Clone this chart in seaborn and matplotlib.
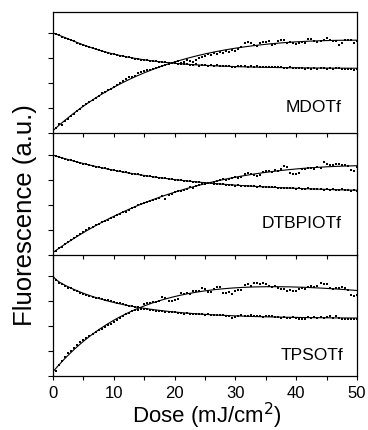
import numpy as np
import pandas as pd
import matplotlib
matplotlib.use("Agg")
import matplotlib.pyplot as plt
import seaborn as sns

# ---------------- data ----------------
dose = np.round(np.arange(0, 50.001, 0.5), 1)   # mJ/cm^2, sampling grid

panel_names = ["MDOTf", "DTBPIOTf", "TPSOTf"]

mdotf_down = [1.00,0.99,0.978,0.963,0.952,0.94,0.928,0.917,0.905,0.893,
              0.882,0.871,0.861,0.85,0.842,0.83,0.822,0.812,0.803,0.795,
              0.786,0.778,0.771,0.766,0.759,0.757,0.75,0.744,0.741,0.735,
              0.732,0.728,0.725,0.721,0.716,0.714,0.71,0.707,0.703,0.702,
              0.699,0.694,0.692,0.689,0.687,0.683,0.676,0.688,0.672,0.68,
              0.679,
              0.675,0.681,0.673,0.676,0.670,0.674,0.668,0.672,0.656,0.660,
              0.669,0.666,0.671,0.664,0.667,0.662,0.668,0.661,0.665,0.659,
              0.663,0.660,0.664,0.657,0.661,0.655,0.652,0.658,0.650,0.654,
              0.647,0.651,0.645,0.648,0.643,0.650,0.641,0.646,0.652,0.644,
              0.649,0.640,0.647,0.653,0.645,0.641,0.636,0.640,0.632,0.637]
mdotf_up = [0.03,0.05,0.09,0.08,0.12,0.14,0.17,0.19,0.22,0.24,
            0.27,0.29,0.31,0.33,0.35,0.37,0.40,0.41,0.43,0.44,
            0.46,0.48,0.50,0.52,0.54,0.56,0.565,0.57,0.60,0.61,
            0.62,0.63,0.635,0.64,0.655,0.66,0.675,0.68,0.695,0.70,
            0.715,0.72,0.70,0.715,0.73,0.725,0.71,0.73,0.75,0.76,
            0.775,
            0.79,0.785,0.80,0.795,0.81,0.80,0.825,0.815,0.83,0.825,
            0.845,0.865,0.905,0.91,0.905,0.88,0.87,0.905,0.915,0.915,
            0.92,0.885,0.89,0.92,0.935,0.93,0.905,0.91,0.905,0.895,
            0.90,0.91,0.905,0.94,0.945,0.92,0.91,0.92,0.935,0.955,
            0.93,0.925,0.92,0.885,0.90,0.93,0.935,0.935,0.905,0.92]

dtbpiotf_down = [1.00,0.99,0.982,0.97,0.961,0.952,0.946,0.937,0.93,0.922,
                 0.915,0.906,0.90,0.892,0.884,0.879,0.87,0.866,0.86,0.854,
                 0.85,0.842,0.836,0.83,0.826,0.82,0.815,0.81,0.806,0.80,
                 0.795,0.79,0.786,0.78,0.776,0.773,0.77,0.766,0.762,0.758,
                 0.755,0.753,0.75,0.744,0.741,0.738,0.735,0.727,0.73,0.724,
                 0.72,0.716,0.722,0.712,0.71,0.707,0.711,0.703,0.70,0.704,
                 0.695,0.699,0.692,0.69,0.694,0.686,0.688,0.684,0.687,0.681,
                 0.683,0.678,0.676,0.68,0.672,0.675,0.671,0.668,0.673,0.666,
                 0.665,0.669,0.662,0.66,0.666,0.658,0.661,0.657,0.663,0.655,
                 0.657,0.652,0.659,0.65,0.654,0.656,0.648,0.653,0.642,0.649,
                 0.645]
dtbpiotf_up = [0.01,0.04,0.07,0.08,0.11,0.13,0.15,0.17,0.19,0.21,
               0.235,0.25,0.27,0.285,0.30,0.315,0.33,0.345,0.355,0.375,
               0.385,0.40,0.415,0.43,0.435,0.455,0.47,0.48,0.50,0.51,
               0.52,0.53,0.545,0.555,0.565,0.575,0.59,0.56,0.605,0.61,
               0.63,0.64,0.645,0.65,0.665,0.68,0.675,0.69,0.70,0.71,
               0.715,0.725,0.72,0.735,0.745,0.75,0.76,0.755,0.765,0.77,
               0.78,0.77,0.785,0.815,0.82,0.81,0.80,0.79,0.805,0.835,
               0.845,0.84,0.83,0.85,0.845,0.86,0.89,0.885,0.82,0.815,
               0.81,0.82,0.86,0.865,0.87,0.875,0.86,0.88,0.87,0.93,
               0.91,0.905,0.90,0.915,0.91,0.905,0.90,0.895,0.85,0.84,
               0.88]

tpsotf_down = [1.00,0.965,0.935,0.925,0.90,0.885,0.88,0.865,0.85,0.835,
               0.825,0.815,0.80,0.795,0.785,0.78,0.77,0.765,0.76,0.75,
               0.745,0.735,0.73,0.72,0.715,0.705,0.70,0.695,0.69,0.68,
               0.675,0.67,0.665,0.66,0.655,0.65,0.65,0.645,0.64,0.64,
               0.638,0.633,0.63,0.624,0.628,0.622,0.616,0.625,0.62,0.617,
               0.613,0.618,0.611,0.615,0.607,0.61,0.612,0.605,0.598,0.58,
               0.59,0.603,0.607,0.599,0.604,0.61,0.601,0.597,0.605,0.594,
               0.60,0.596,0.60,0.592,0.588,0.583,0.59,0.584,0.58,0.586,
               0.578,0.573,0.575,0.57,0.59,0.585,0.592,0.58,0.595,0.583,
               0.59,0.602,0.584,0.596,0.578,0.573,0.575,0.568,0.572,0.57,
               0.575]
tpsotf_up = [0.02,0.05,0.11,0.15,0.19,0.23,0.25,0.28,0.31,0.34,
             0.36,0.385,0.40,0.42,0.44,0.46,0.47,0.49,0.51,0.525,
             0.54,0.56,0.58,0.60,0.62,0.635,0.655,0.66,0.665,0.67,
             0.72,0.73,0.735,0.74,0.745,0.75,0.79,0.785,0.755,0.75,
             0.765,0.775,0.83,0.825,0.83,0.82,0.85,0.85,0.855,0.88,
             0.875,0.845,0.84,0.87,0.895,0.89,0.835,0.83,0.84,0.825,
             0.855,0.86,0.865,0.915,0.92,0.905,0.935,0.93,0.92,0.93,
             0.925,0.90,0.895,0.90,0.88,0.875,0.87,0.855,0.86,0.85,
             0.855,0.87,0.88,0.875,0.895,0.90,0.895,0.90,0.93,0.92,
             0.925,0.885,0.875,0.88,0.885,0.89,0.88,0.86,0.81,0.80,
             0.815]

series = {
    "MDOTf": (mdotf_down, mdotf_up),
    "DTBPIOTf": (dtbpiotf_down, dtbpiotf_up),
    "TPSOTf": (tpsotf_down, tpsotf_up),
}
x_major = [0, 10, 20, 30, 40, 50]
label_pos = {"MDOTf": (0.95, 0.17), "DTBPIOTf": (0.95, 0.22), "TPSOTf": (0.955, 0.13)}

# ---------------- fit (two-exponential least squares) ----------------
def fit_curve(x, y, xf):
    x = np.asarray(x, float); y = np.asarray(y, float)
    best = None
    for t1 in np.geomspace(0.5, 40, 40):
        for t2 in np.geomspace(5, 400, 40):
            if t2 <= t1:
                continue
            A = np.column_stack([np.ones_like(x), np.exp(-x / t1), np.exp(-x / t2)])
            coef, *_ = np.linalg.lstsq(A, y, rcond=None)
            r = np.sum((A @ coef - y) ** 2)
            if best is None or r < best[0]:
                best = (r, t1, t2, coef)
    _, t1, t2, c = best
    return c[0] + c[1] * np.exp(-xf / t1) + c[2] * np.exp(-xf / t2)

# ---------------- figure ----------------
sns.set_style("ticks")
plt.rcParams["font.family"] = ["Liberation Sans", "DejaVu Sans"]
plt.rcParams["axes.linewidth"] = 0.9
for k in ("text.color", "axes.labelcolor", "xtick.color", "ytick.color", "axes.edgecolor"):
    plt.rcParams[k] = "black"

fig = plt.figure(figsize=(3.68, 4.30), dpi=100)
left, width = 53 / 368, 304 / 368
bottoms = [1 - 133 / 430, 1 - 255 / 430, 1 - 376 / 430]
height = 121 / 430

xf = np.linspace(0, 50, 400)
for i, name in enumerate(panel_names):
    ax = fig.add_axes([left, bottoms[i], width, height])
    ax.set_facecolor("none")
    down, up = series[name]
    assert len(down) == len(dose) and len(up) == len(dose)
    df = pd.DataFrame({
        "dose": np.concatenate([dose, dose]),
        "val": np.concatenate([down, up]),
        "kind": ["down"] * len(dose) + ["up"] * len(dose),
    })
    sns.scatterplot(data=df, x="dose", y="val", ax=ax, color="black",
                    s=3.6, marker="s", linewidth=0, legend=False, zorder=3)
    for arr in (down, up):
        fdf = pd.DataFrame({"dose": xf, "val": fit_curve(dose, arr, xf)})
        sns.lineplot(data=fdf, x="dose", y="val", ax=ax, color="black",
                     linewidth=0.8, legend=False, zorder=2)
    ax.set_xlim(0, 50)
    ax.set_ylim(0, 1.21)
    ax.set_yticks([0, 0.25, 0.5, 0.75, 1.0])
    ax.set_yticklabels([])
    ax.set_xticks(x_major)
    ax.set_xticks([5, 15, 25, 35, 45], minor=True)
    ax.tick_params(axis="x", which="both", direction="out", length=3, width=0.8,
                   pad=4, labelsize=12, top=False)
    ax.tick_params(axis="y", which="both", direction="out", length=3.5, width=0.8,
                   right=False)
    for sp in ax.spines.values():
        sp.set_visible(True)
        sp.set_color("black")
    if i > 0:
        ax.spines["top"].set_visible(False)
    ax.set_ylabel("")
    ax.set_xlabel("")
    if i < 2:
        ax.set_xticklabels([])
    else:
        ax.set_xticklabels([str(v) for v in x_major])
    lx, ly = label_pos[name]
    ax.text(lx, ly, name, transform=ax.transAxes, ha="right", va="baseline",
            fontsize=12.5)

fig.text(207 / 368, 1 - 423 / 430, "Dose (mJ/cm$^2$)", ha="center",
         va="baseline", fontsize=16)
fig.text(25 / 368, 1 - 215 / 430, "Fluorescence (a.u.)", rotation=90,
         ha="center", va="center", fontsize=18.5)

fig.savefig("out.png", dpi=100, facecolor="white")
